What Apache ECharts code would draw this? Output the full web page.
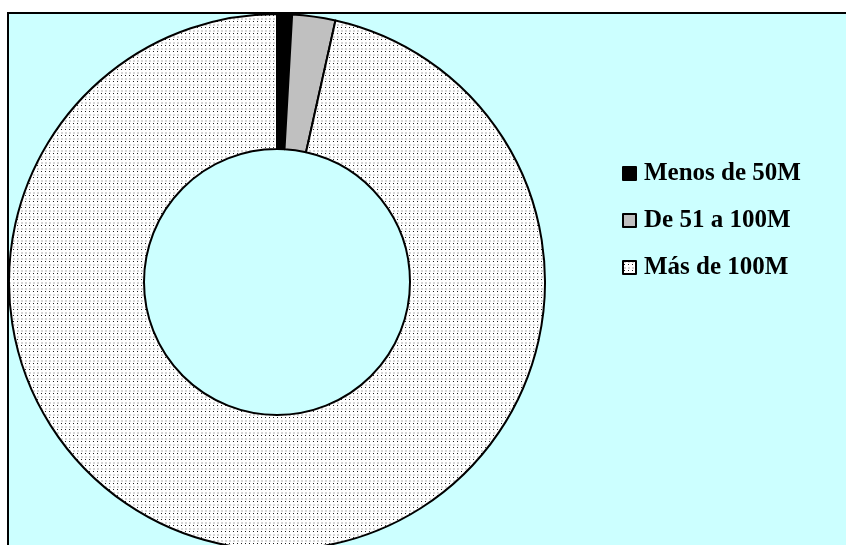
<!DOCTYPE html>
<html>
<head>
<meta charset="utf-8">
<script src="https://cdn.jsdelivr.net/npm/echarts@6/dist/echarts.min.js"></script>
<style>
  html, body { margin: 0; padding: 0; background: #fff; }
  #chart { width: 846px; height: 545px; }
</style>
</head>
<body>
<div id="chart"></div>
<script>
var categories = ['Menos de 50M', 'De 51 a 100M', 'Más de 100M'];
var values = [0.9, 2.6, 96.5];

// trama de puntos tipo Excel
function dotPattern() {
  var c = document.createElement('canvas');
  c.width = 4; c.height = 6;
  var ctx = c.getContext('2d');
  ctx.fillStyle = '#ffffff';
  ctx.fillRect(0, 0, 4, 6);
  ctx.fillStyle = '#d6d6d6';
  ctx.fillRect(1, 0, 2, 2);
  ctx.fillStyle = '#222222';
  ctx.fillRect(1, 3, 1, 1);
  return c;
}

var fills = ['#000000', '#c0c0c0', { image: dotPattern(), repeat: 'repeat' }];

var myChart = echarts.init(document.getElementById('chart'), null, { renderer: 'canvas' });
var option = {
  backgroundColor: '#ffffff',
  animation: false,
  graphic: [{
    type: 'rect',
    z: -10,
    shape: { x: 8, y: 13, width: 900, height: 600 },
    style: { fill: '#ccffff', stroke: '#000', lineWidth: 2 }
  }],
  legend: {
    orient: 'vertical',
    left: 617,
    top: 156,
    itemWidth: 13,
    itemHeight: 13,
    itemGap: 22,
    icon: 'rect',
    data: categories,
    textStyle: {
      fontFamily: 'Liberation Serif',
      fontWeight: 'bold',
      fontSize: 25,
      lineHeight: 25,
      color: '#000',
      padding: [0, 0, 0, 3]
    }
  },
  series: [{
    type: 'pie',
    center: [277, 282],
    radius: [133, 268],
    startAngle: 90,
    clockwise: true,
    avoidLabelOverlap: false,
    label: { show: false },
    labelLine: { show: false },
    emphasis: { disabled: true },
    itemStyle: { borderColor: '#000', borderWidth: 2 },
    data: categories.map(function (name, i) {
      return { name: name, value: values[i], itemStyle: { color: fills[i] } };
    })
  }]
};
myChart.setOption(option, true);
</script>
</body>
</html>
